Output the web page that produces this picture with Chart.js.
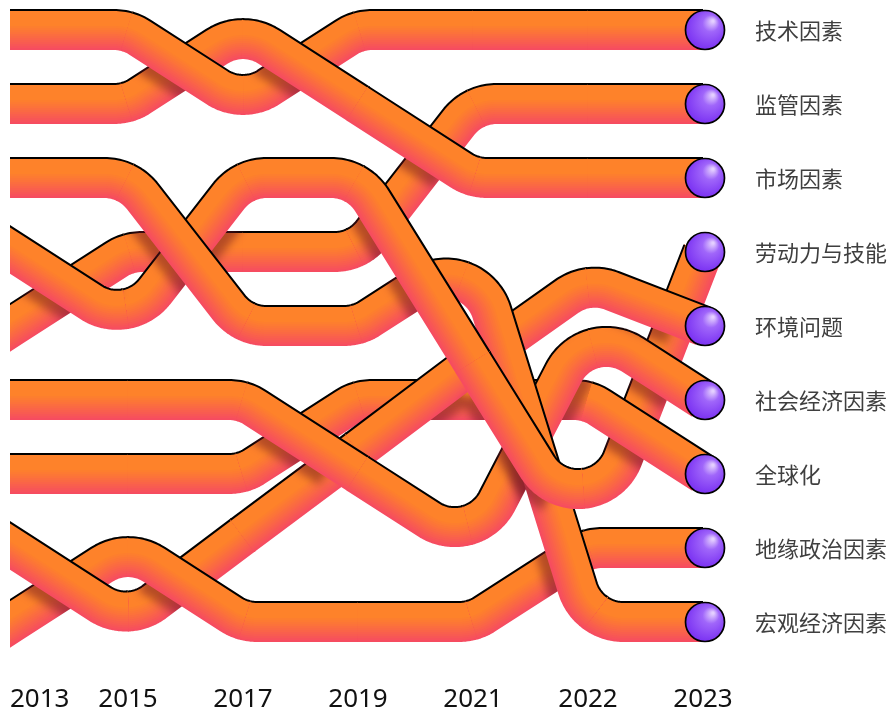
<!DOCTYPE html>
<html>
<head>
<meta charset="utf-8">
<script src="https://cdn.jsdelivr.net/npm/chart.js@4.4.1/dist/chart.umd.min.js"></script>
<style>
  html, body { margin: 0; padding: 0; background: #fff; }
  #wrap { width: 895px; height: 709px; }
</style>
</head>
<body>
<div id="wrap"><canvas id="bump" width="895" height="709"></canvas></div>
<script>
// Bump chart of factor rankings: each factor is a thick "tube" ribbon through its
// rank per year, rounded at the corners, ending in a purple bead + label.

const years = ["2013", "2015", "2017", "2019", "2021", "2022", "2023"];
const factors = ["技术因素", "监管因素", "市场因素", "劳动力与技能", "环境问题",
  "社会经济因素", "全球化", "地缘政治因素", "宏观经济因素"];

// Rank per year (1 = top). A few readings sit between two ranks.
const techRank = [1, 1, 2, 1, 1, 1, 1];
const regulationRank = [5, 4, 4, 4, 2, 2, 2];
const marketRank = [2, 2, 1, 2, 3, 3, 3];
const labourRank = [4, 5, 3, 3, 5.5, 8, 4];
const environmentRank = [8, 9, 7.83, 6.67, 5.5, 4.4, 5];
const socioRank = [6, 6, 6, 7, 8, 5, 6];
const globalRank = [7, 7, 7, 6, 6, 6, 7];
const geopoliticsRank = [9, 8, 9, 9, 9, 8, 8];
const macroRank = [3, 3, 5, 5, 4, 9, 9];

const rankSeries = [techRank, regulationRank, marketRank, labourRank, environmentRank,
  socioRank, globalRank, geopoliticsRank, macroRank];

const CORNER = 48; // fillet radius at each turn
const HALF = 20; // half the ribbon width
const ORANGE = [254, 130, 42];
const PINK = [246, 76, 96];

function unit(dx, dy) {
  const l = Math.hypot(dx, dy) || 1;
  return [dx / l, dy / l, l];
}

// Colour across the ribbon: s runs from -HALF (left of travel) to +HALF.
function bandColor(s) {
  const f = Math.pow(Math.min(1, Math.max(0, (s + 4) / 24)), 1.1);
  return `rgb(${ORANGE.map((o, i) => Math.round(o + (PINK[i] - o) * f))})`;
}

// Stroke the centreline shifted sideways by `off` (positive = right of travel).
function strokeOffset(ctx, samples, off, width, color) {
  ctx.beginPath();
  samples.forEach((p, i) => {
    const x = p.x - p.ty * off, y = p.y + p.tx * off;
    i ? ctx.lineTo(x, y) : ctx.moveTo(x, y);
  });
  ctx.lineWidth = width;
  ctx.strokeStyle = color;
  ctx.lineCap = "butt";
  ctx.lineJoin = "round";
  ctx.stroke();
}

// Rounded polyline through the points, returned as one sample list per interval
// (split at the middle of each corner arc) so crossings can be layered per piece.
function ribbonPieces(pts) {
  const n = pts.length;
  const corners = [];
  for (let i = 1; i < n - 1; i++) {
    const p = pts[i];
    const [ux1, uy1, l1] = unit(pts[i - 1].x - p.x, pts[i - 1].y - p.y);
    const [ux2, uy2, l2] = unit(pts[i + 1].x - p.x, pts[i + 1].y - p.y);
    const theta = Math.acos(Math.max(-1, Math.min(1, ux1 * ux2 + uy1 * uy2)));
    if (Math.PI - theta < 0.01) {
      corners[i] = [{ x: p.x, y: p.y, tx: ux2, ty: uy2 }];
      continue;
    }
    let t = Math.min(CORNER / Math.tan(theta / 2), l1 / 2, l2 / 2);
    const r = t * Math.tan(theta / 2);
    const [bx, by] = unit(ux1 + ux2, uy1 + uy2);
    const d = r / Math.sin(theta / 2);
    const cx = p.x + bx * d, cy = p.y + by * d;
    const a0 = Math.atan2(p.y + uy1 * t - cy, p.x + ux1 * t - cx);
    const a1 = Math.atan2(p.y + uy2 * t - cy, p.x + ux2 * t - cx);
    let sweep = a1 - a0;
    while (sweep > Math.PI) sweep -= 2 * Math.PI;
    while (sweep < -Math.PI) sweep += 2 * Math.PI;
    const steps = 2 * Math.max(2, Math.ceil(Math.abs(sweep) / 0.08));
    const sg = Math.sign(sweep);
    const arc = [];
    for (let k = 0; k <= steps; k++) {
      const a = a0 + (sweep * k) / steps;
      arc.push({ x: cx + r * Math.cos(a), y: cy + r * Math.sin(a), tx: -Math.sin(a) * sg, ty: Math.cos(a) * sg });
    }
    corners[i] = arc;
  }

  const pieces = [];
  for (let k = 0; k < n - 1; k++) {
    let s = [];
    if (k === 0) {
      const [ux, uy] = unit(pts[1].x - pts[0].x, pts[1].y - pts[0].y);
      s.push({ x: pts[0].x - ux * 30, y: pts[0].y - uy * 30, tx: ux, ty: uy });
      s.push({ x: pts[0].x, y: pts[0].y, tx: ux, ty: uy });
    } else {
      const c = corners[k];
      s = s.concat(c.slice(Math.floor(c.length / 2)));
    }
    if (k === n - 2) {
      const [ux, uy] = unit(pts[n - 1].x - pts[n - 2].x, pts[n - 1].y - pts[n - 2].y);
      s.push({ x: pts[n - 1].x, y: pts[n - 1].y, tx: ux, ty: uy });
    } else {
      const c = corners[k + 1];
      s = s.concat(c.slice(0, Math.floor(c.length / 2) + 1));
    }
    // nudge inner ends outwards a hair so neighbouring pieces don't leave a seam
    const a = s[0], b = s[s.length - 1];
    if (k > 0) s[0] = { ...a, x: a.x - a.tx * 0.8, y: a.y - a.ty * 0.8 };
    if (k < n - 2) s[s.length - 1] = { ...b, x: b.x + b.tx * 0.8, y: b.y + b.ty * 0.8 };
    pieces.push({ samples: s, dy: pts[k + 1].y - pts[k].y });
  }
  return pieces;
}

// Cut `cut` px off both ends of a sample list (for the soft crossing shadow).
function trimSamples(s, cut) {
  const cum = [0];
  for (let i = 1; i < s.length; i++) cum.push(cum[i - 1] + Math.hypot(s[i].x - s[i - 1].x, s[i].y - s[i - 1].y));
  const total = cum[cum.length - 1];
  if (total < 2 * cut + 10) return [];
  const at = (d) => {
    let i = 0;
    while (i < s.length - 2 && cum[i + 1] < d) i++;
    const f = (d - cum[i]) / (cum[i + 1] - cum[i] || 1);
    const [tx, ty] = unit(s[i + 1].x - s[i].x, s[i + 1].y - s[i].y);
    return { x: s[i].x + (s[i + 1].x - s[i].x) * f, y: s[i].y + (s[i + 1].y - s[i].y) * f, tx, ty };
  };
  const out = [at(cut)];
  s.forEach((p, i) => { if (cum[i] > cut && cum[i] < total - cut) out.push(p); });
  out.push(at(total - cut));
  return out;
}

function drawPiece(ctx, samples) {
  // dark fringe cast only onto ribbons already drawn underneath
  const shade = trimSamples(samples, 28);
  if (shade.length > 1) {
    ctx.save();
    ctx.globalCompositeOperation = "source-atop";
    ctx.filter = "blur(4px)";
    strokeOffset(ctx, shade, 12, 36, "rgba(110,20,30,0.5)");
    ctx.restore();
  }
  for (let t = HALF; t >= -4; t -= 2) {
    strokeOffset(ctx, samples, (t - HALF) / 2, t + HALF, bandColor(t));
  }
  strokeOffset(ctx, samples, -HALF, 2, "#000");
}

function drawBead(ctx, x, y) {
  const g = ctx.createRadialGradient(x + 8, y - 9, 1, x + 2, y - 2, 22);
  g.addColorStop(0, "#e4cfff");
  g.addColorStop(0.35, "#a066fa");
  g.addColorStop(1, "#7a31f2");
  ctx.beginPath();
  ctx.arc(x, y, 19.5, 0, Math.PI * 2);
  ctx.fillStyle = g;
  ctx.fill();
  ctx.lineWidth = 1.7;
  ctx.strokeStyle = "#000";
  ctx.stroke();
}

const ribbonPlugin = {
  id: "ribbons",
  afterDatasetsDraw(chart) {
    const ctx = chart.ctx;
    const area = chart.chartArea;
    const lines = chart.data.datasets.map((_, i) =>
      chart.getDatasetMeta(i).data.map((el) => ({ x: el.x, y: el.y })));

    // flat pieces lowest, rising ones next, falling ones on top
    const all = [];
    lines.forEach((pts, si) => ribbonPieces(pts).forEach((p) => {
      const cls = Math.abs(p.dy) < 1 ? 0 : p.dy < 0 ? 1 : 2;
      all.push({ ...p, si, cls });
    }));
    all.sort((a, b) => a.cls - b.cls || b.si - a.si);

    ctx.save();
    ctx.beginPath();
    ctx.rect(area.left - 3, 0, chart.width, chart.height);
    ctx.clip();
    all.forEach((p) => drawPiece(ctx, p.samples));
    ctx.restore();

    // beads and factor names at the last year
    ctx.save();
    lines.forEach((pts, i) => {
      const last = pts[pts.length - 1];
      drawBead(ctx, last.x + 2, last.y);
      ctx.font = '22px "Noto Sans CJK SC", "Noto Sans", sans-serif';
      ctx.fillStyle = "#3f3f3f";
      ctx.textBaseline = "middle";
      ctx.textAlign = "left";
      ctx.fillText(factors[i], last.x + 52, last.y + 1);
    });

    // year labels, the first one kept inside the canvas
    const xs = chart.scales.x;
    ctx.font = '26px "Noto Sans", "DejaVu Sans", sans-serif';
    ctx.fillStyle = "#111";
    ctx.textBaseline = "alphabetic";
    ctx.textAlign = "center";
    years.forEach((yr, i) => {
      const w = ctx.measureText(yr).width;
      const x = Math.max(xs.getPixelForValue(i), area.left - 3 + w / 2);
      ctx.fillText(yr, x, chart.height - 2);
    });
    ctx.restore();
  },
};

new Chart(document.getElementById("bump"), {
  type: "line",
  data: {
    labels: years,
    datasets: rankSeries.map((d, i) => ({
      label: factors[i],
      data: d,
      showLine: false,
      pointRadius: 0,
    })),
  },
  options: {
    responsive: false,
    animation: false,
    devicePixelRatio: 1,
    events: [],
    layout: { padding: { left: 13, right: 192, top: 30, bottom: 87 } },
    plugins: { legend: { display: false }, tooltip: { enabled: false } },
    scales: {
      x: { display: false, offset: false },
      y: { display: false, min: 1, max: 9, reverse: true },
    },
  },
  plugins: [ribbonPlugin],
});
</script>
</body>
</html>
